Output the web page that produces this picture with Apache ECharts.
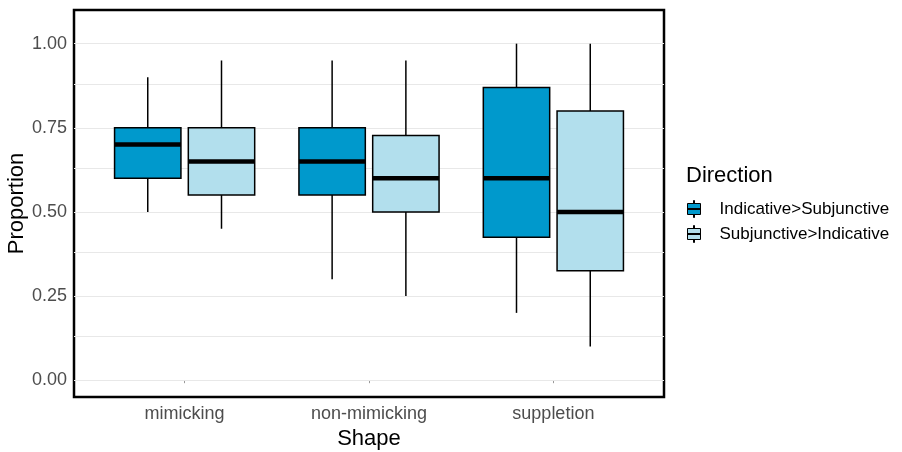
<!DOCTYPE html>
<html>
<head>
<meta charset="utf-8">
<script src="https://cdn.jsdelivr.net/npm/echarts@6/dist/echarts.min.js"></script>
<style>
  html, body { margin: 0; padding: 0; background: #fff; }
  #chart { width: 902px; height: 452px; }
</style>
</head>
<body>
<div id="chart"></div>
<script>
// Categories on the x axis and the two fill groups
const categories = ['mimicking', 'non-mimicking', 'suppletion'];
const directions = ['Indicative>Subjunctive', 'Subjunctive>Indicative'];

// Five-number summaries per category (Indicative>Subjunctive)
const indLow  = [0.50, 0.30, 0.20];
const indQ1   = [0.60, 0.55, 0.425];
const indMed  = [0.70, 0.65, 0.60];
const indQ3   = [0.75, 0.75, 0.87];
const indHigh = [0.90, 0.95, 1.00];

// Five-number summaries per category (Subjunctive>Indicative)
const subLow  = [0.45, 0.25, 0.10];
const subQ1   = [0.55, 0.50, 0.325];
const subMed  = [0.65, 0.60, 0.50];
const subQ3   = [0.75, 0.727, 0.80];
const subHigh = [0.95, 0.95, 1.00];

// Axis tick labels and horizontal grid breaks
const yTicks = [0, 0.25, 0.5, 0.75, 1];
const gridBreaks = [0, 0.125, 0.25, 0.375, 0.5, 0.625, 0.75, 0.875, 1];

const colors = ['#0099cc', '#b2dfed'];
const dodge = 0.2;     // offset of each box from the category centre
const halfWidth = 0.18;

function buildData(low, q1, med, q3, high, offset) {
  return categories.map((c, i) => [i + 1 + offset, low[i], q1[i], med[i], q3[i], high[i]]);
}

function renderBox(params, api) {
  const x = api.value(0);
  const lo = api.coord([x, api.value(1)]);
  const b1 = api.coord([x, api.value(2)]);
  const md = api.coord([x, api.value(3)]);
  const b3 = api.coord([x, api.value(4)]);
  const hi = api.coord([x, api.value(5)]);
  const left = api.coord([x - halfWidth, 0])[0];
  const right = api.coord([x + halfWidth, 0])[0];
  const fill = api.visual('color');
  const line = { stroke: '#000', lineWidth: 1.5 };
  return {
    type: 'group',
    children: [
      { type: 'line', shape: { x1: hi[0], y1: hi[1], x2: b3[0], y2: b3[1] }, style: line },
      { type: 'line', shape: { x1: b1[0], y1: b1[1], x2: lo[0], y2: lo[1] }, style: line },
      { type: 'rect', shape: { x: left, y: b3[1], width: right - left, height: b1[1] - b3[1] },
        style: { fill: fill, stroke: '#000', lineWidth: 1.5 } },
      { type: 'line', shape: { x1: left, y1: md[1], x2: right, y2: md[1] },
        style: { stroke: '#000', lineWidth: 4.5 } }
    ]
  };
}

const font = "'Liberation Sans', Arial, sans-serif";

const chart = echarts.init(document.getElementById('chart'), null, { renderer: 'canvas' });
chart.setOption({
  animation: false,
  backgroundColor: '#fff',
  title: {
    text: 'Direction', left: 686, top: 165, padding: 0,
    textStyle: { fontFamily: font, fontSize: 22, fontWeight: 'normal', color: '#000' }
  },
  legend: {
    data: directions,
    orient: 'vertical', left: 687, top: 200, padding: 0,
    itemWidth: 13, itemHeight: 17, itemGap: 7,
    icon: 'path://M0,3H13V14H0Z M6,0H7V3H6Z M6,14H7V17H6Z M0,8H13V9H0Z',
    itemStyle: { borderColor: '#000', borderWidth: 1 },
    textStyle: { fontFamily: font, fontSize: 17, color: '#000', padding: [0, 0, 0, 14] }
  },
  grid: {
    left: 74, top: 10, width: 590, height: 387,
    outerBoundsMode: 'none',
    show: true, borderColor: '#000', borderWidth: 2.5, backgroundColor: 'transparent'
  },
  xAxis: {
    type: 'value', min: 0.4, max: 3.6,
    name: 'Shape', nameLocation: 'middle', nameGap: 31, nameMoveOverlap: false,
    nameTextStyle: { fontFamily: font, fontSize: 22, color: '#000' },
    axisLine: { show: false },
    splitLine: { show: false },
    axisTick: { show: true, customValues: [1, 2, 3], length: 3, lineStyle: { color: '#999' } },
    axisLabel: {
      customValues: [1, 2, 3],
      formatter: v => categories[Math.round(v) - 1],
      fontFamily: font, fontSize: 18, color: '#4d4d4d', margin: 8
    }
  },
  yAxis: {
    type: 'value', min: -0.05, max: 1.1,
    name: 'Proportion', nameLocation: 'middle', nameGap: 46, nameMoveOverlap: false,
    nameTextStyle: { fontFamily: font, fontSize: 22, color: '#000' },
    axisLine: { show: false },
    axisTick: { show: false },
    splitLine: { show: false },
    axisLabel: {
      customValues: yTicks,
      formatter: v => v.toFixed(2),
      fontFamily: font, fontSize: 18, color: '#4d4d4d', margin: 7
    }
  },
  series: [
    {
      type: 'line', data: [], z: 1, silent: true,
      markLine: {
        z: 1, silent: true, symbol: 'none', label: { show: false },
        lineStyle: { color: '#e8e8e8', width: 1, type: 'solid' },
        data: gridBreaks.map(v => ({ yAxis: v }))
      }
    },
    {
      name: directions[0], type: 'custom', z: 3, color: colors[0],
      renderItem: renderBox,
      encode: { x: 0, y: [1, 2, 3, 4, 5] },
      data: buildData(indLow, indQ1, indMed, indQ3, indHigh, -dodge)
    },
    {
      name: directions[1], type: 'custom', z: 3, color: colors[1],
      renderItem: renderBox,
      encode: { x: 0, y: [1, 2, 3, 4, 5] },
      data: buildData(subLow, subQ1, subMed, subQ3, subHigh, dodge)
    }
  ]
});
</script>
</body>
</html>
